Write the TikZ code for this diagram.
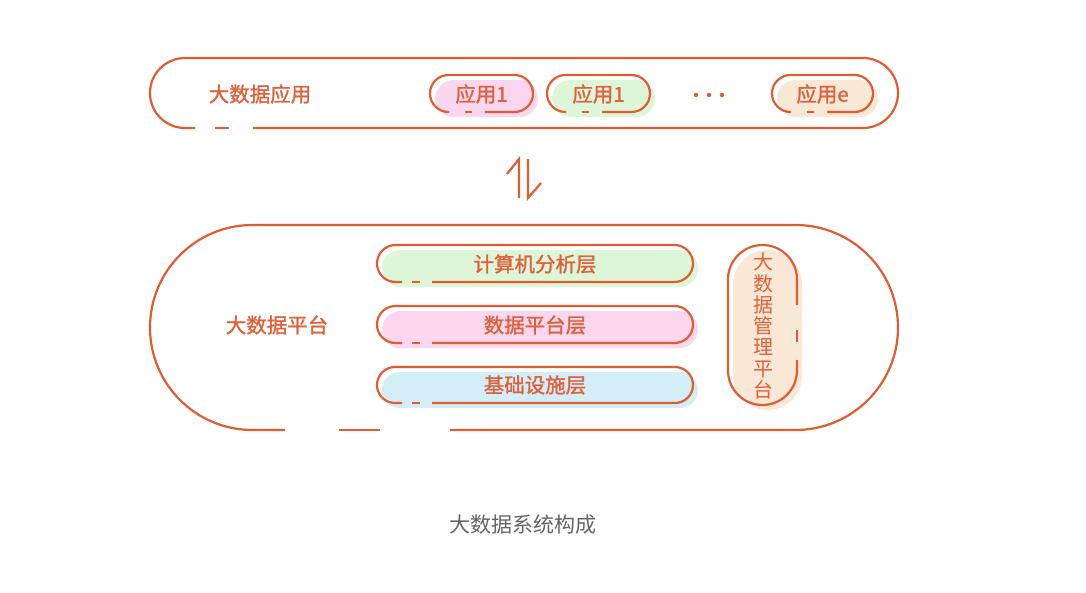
\documentclass[tikz,border=0pt]{standalone}
\usepackage{fontspec}
\newfontfamily\cjk{Noto Sans CJK SC}
\newfontfamily\cjkm[FakeBold=1.3]{Noto Sans CJK SC}
\definecolor{org}{RGB}{226,92,50}
\definecolor{txt}{RGB}{224,96,58}
\definecolor{pinkf}{RGB}{250,215,238}
\definecolor{greenf}{RGB}{222,246,216}
\definecolor{peachf}{RGB}{250,232,214}
\definecolor{bluef}{RGB}{212,238,248}
\definecolor{capgray}{RGB}{100,100,100}
\tikzset{
  outl/.style={draw=org, line width=2.2pt},
  lbl/.style={text=txt, font=\cjkm\fontsize{20.5}{22}\selectfont, inner sep=0pt},
  vlbl/.style={text=txt, font=\cjk\fontsize{20}{21.3}\selectfont, align=center, inner sep=0pt},
  arr/.style={draw=org, line width=2.2pt},
}
\begin{document}
\begin{tikzpicture}[x=1pt,y=-1pt]
\useasboundingbox (0,0) rectangle (1086,592);
% ---- top bar ----
\draw[outl] (253,128) -- (863,128) arc(-90:90:35pt) -- (185,58) arc(90:270:35pt) -- (195,128);
\draw[outl] (215,128) -- (229,128);
\node[lbl] (app) at (260,94) {大数据应用};
% pill 1
\fill[pinkf, rounded corners=18.5pt] (435,80) rectangle (538,117);
\draw[outl] (485,112) -- (514.5,112) arc(-90:90:18.5pt) -- (448.5,75) arc(90:270:18.5pt) -- (449,112);
\draw[outl] (465,112) -- (472,112);
\node[lbl] (a1) at (481.5,94) {应用1};
% pill 2
\fill[greenf, rounded corners=18.5pt] (552,80) rectangle (655,117);
\draw[outl] (602,112) -- (631.5,112) arc(-90:90:18.5pt) -- (565.5,75) arc(90:270:18.5pt) -- (566,112);
\draw[outl] (582,112) -- (589,112);
\node[lbl] (a2) at (598.5,94) {应用1};
% dots
\fill[org] (696,95) circle (2.2pt) (709,95) circle (2.2pt) (722,95) circle (2.2pt);
% pill 3
\fill[peachf, rounded corners=18.5pt] (777,80) rectangle (878,117);
\draw[outl] (827,112) -- (854.5,112) arc(-90:90:18.5pt) -- (790.5,75) arc(90:270:18.5pt) -- (791,112);
\draw[outl] (807,112) -- (814,112);
\node[lbl] (ae) at (822.5,94) {应用e};
% ---- arrows ----
\coordinate (u1) at (519,198);
\coordinate (u2) at (519,159);
\coordinate (u3) at (507,174);
\coordinate (d1) at (528,159);
\coordinate (d2) at (528,198);
\coordinate (d3) at (541,183);
\draw[arr] (u1) -- (u2) -- (u3);
\draw[arr] (d1) -- (d2) -- (d3);
% ---- platform ----
\draw[outl] (450,430) -- (795.5,430) arc(-90:90:102.5pt) -- (252.5,225) arc(90:270:102.5pt) -- (285,430);
\draw[outl] (339,430) -- (380,430);
\node[lbl] (plat) at (277,325) {大数据平台};
% layer 1
\fill[greenf, rounded corners=18.5pt] (382,250) rectangle (698,287);
\draw[outl] (432,282) -- (674.5,282) arc(-90:90:18.5pt) -- (395.5,245) arc(90:270:18.5pt) -- (402,282);
\draw[outl] (412,282) -- (420,282);
\node[lbl] (l1) at (535,264) {计算机分析层};
% layer 2
\fill[pinkf, rounded corners=18.5pt] (382,311) rectangle (698,348);
\draw[outl] (432,343) -- (674.5,343) arc(-90:90:18.5pt) -- (395.5,306) arc(90:270:18.5pt) -- (402,343);
\draw[outl] (412,343) -- (420,343);
\node[lbl] (l2) at (535,325) {数据平台层};
% layer 3
\fill[bluef, rounded corners=18pt] (382,372) rectangle (698,408);
\draw[outl] (432,403) -- (675,403) arc(-90:90:18pt) -- (395,367) arc(90:270:18pt) -- (402,403);
\draw[outl] (412,403) -- (420,403);
\node[lbl] (l3) at (535,385) {基础设施层};
% vertical pill
\fill[peachf, rounded corners=34.5pt] (733,250) rectangle (802,410);
\draw[outl] (797,360) -- (797,370.5) arc(0:-180:34.5pt) -- (728,279.5) arc(180:0:34.5pt) -- (797,305);
\draw[outl] (797,330) -- (797,342);
\node[vlbl] (mgmt) at (763,326) {大\\数\\据\\管\\理\\平\\台};
% caption
\node[text=capgray, font=\cjk\fontsize{21}{23}\selectfont, inner sep=0pt] (cap) at (523,525) {大数据系统构成};
\end{tikzpicture}
\end{document}
